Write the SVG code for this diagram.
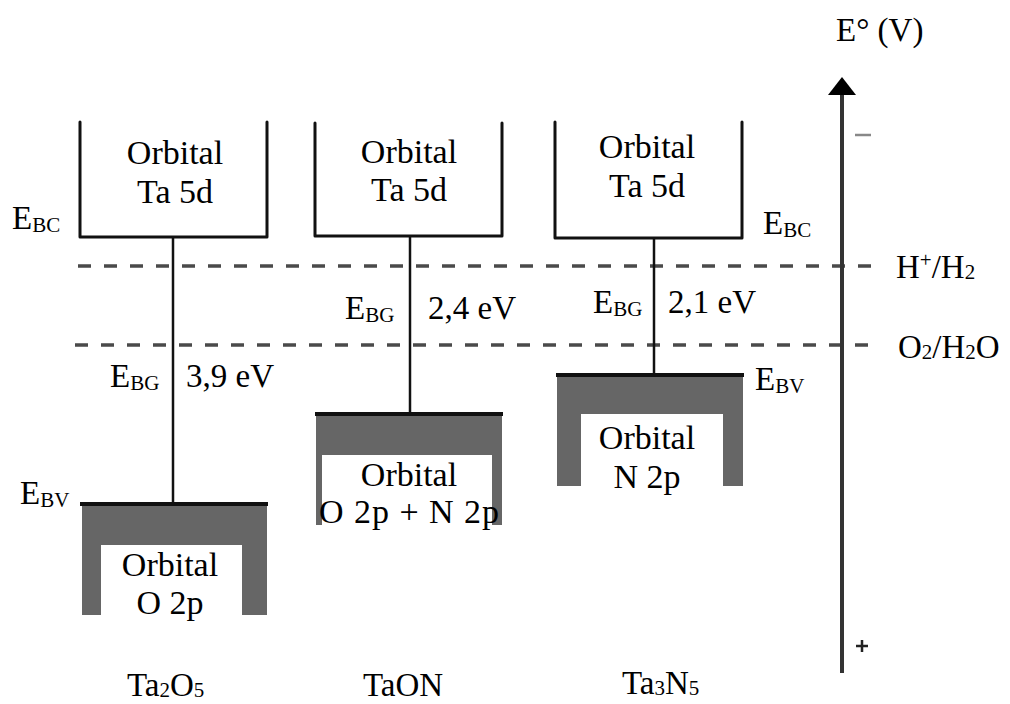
<svg xmlns="http://www.w3.org/2000/svg" width="1010" height="704" viewBox="0 0 1010 704" font-family="'Liberation Serif', 'Times New Roman', serif">
<defs>
<style>
text{font-family:'Liberation Serif','Times New Roman',serif;fill:#000}
.t{font-size:34px;text-anchor:middle}
.l{font-size:33px}
.s{font-size:21px}
.cb{fill:none;stroke:#111;stroke-width:3;stroke-linejoin:round;stroke-linecap:round}
.vb{fill:#666}
.vw{fill:#fff}
.top{stroke:#111;stroke-width:4}
.gap{stroke:#111;stroke-width:2.5}
.dash{stroke:#4a4a4a;stroke-width:3.5;stroke-dasharray:13 13}
</style>
</defs>
<rect width="1010" height="704" fill="#fff"/>

<g id="levels">
<line class="dash" x1="78" y1="266" x2="880" y2="266"/>
<line class="dash" x1="75" y1="345" x2="880" y2="345"/>
</g>

<g id="connectors">
<line class="gap" x1="173" y1="237" x2="173" y2="504"/>
<line class="gap" x1="410" y1="236" x2="410" y2="414"/>
<line class="gap" x1="654" y1="238" x2="654" y2="375"/>
</g>

<g id="ta2o5-cb">
<path class="cb" d="M80 122 V237 H267 V122"/>
<text class="t" x="175" y="164">Orbital</text>
<text class="t" x="175" y="203">Ta 5d</text>
</g>
<g id="ta2o5-vb">
<rect class="vb" x="82" y="504" width="185" height="111"/>
<rect class="vw" x="101" y="545" width="141" height="71"/>
<line class="top" x1="80" y1="504" x2="268" y2="504"/>
<text class="t" x="170" y="576">Orbital</text>
<text class="t" x="170" y="614">O 2p</text>
</g>

<g id="taon-cb">
<path class="cb" d="M315 123 V236 H502 V123"/>
<text class="t" x="409" y="163">Orbital</text>
<text class="t" x="409" y="201">Ta 5d</text>
</g>
<g id="taon-vb">
<rect class="vb" x="316" y="414" width="186" height="111"/>
<rect class="vw" x="322" y="455" width="170" height="71"/>
<line class="top" x1="315" y1="414" x2="503" y2="414"/>
<text class="t" x="409" y="486">Orbital</text>
<text class="t" x="409" y="523" textLength="180" lengthAdjust="spacing">O 2p + N 2p</text>
</g>

<g id="ta3n5-cb">
<path class="cb" d="M555 122 V238 H742 V122"/>
<text class="t" x="647" y="158">Orbital</text>
<text class="t" x="647" y="197">Ta 5d</text>
</g>
<g id="ta3n5-vb">
<rect class="vb" x="557" y="375" width="186" height="111"/>
<rect class="vw" x="581" y="414" width="142" height="73"/>
<line class="top" x1="556" y1="375" x2="744" y2="375"/>
<text class="t" x="647" y="449">Orbital</text>
<text class="t" x="647" y="488">N 2p</text>
</g>

<g id="labels">
<text class="l" x="12" y="229">E<tspan class="s" dy="3">BC</tspan></text>
<text class="l" x="20" y="504">E<tspan class="s" dy="3">BV</tspan></text>
<text class="l" x="110" y="387">E<tspan class="s" dy="3">BG</tspan></text>
<text class="l" x="186" y="387">3,9 eV</text>
<text class="l" x="345" y="319">E<tspan class="s" dy="3">BG</tspan></text>
<text class="l" x="428" y="319">2,4 eV</text>
<text class="l" x="593" y="313">E<tspan class="s" dy="3">BG</tspan></text>
<text class="l" x="668" y="313">2,1 eV</text>
<text class="l" x="763" y="234">E<tspan class="s" dy="3">BC</tspan></text>
<text class="l" x="755" y="390">E<tspan class="s" dy="3">BV</tspan></text>
<text class="l" x="127" y="696">Ta<tspan class="s" dy="1">2</tspan><tspan dy="-1">O</tspan><tspan class="s" dy="1">5</tspan></text>
<text class="l" x="363" y="696">TaON</text>
<text class="l" x="622" y="694">Ta<tspan class="s" dy="1">3</tspan><tspan dy="-1">N</tspan><tspan class="s" dy="1">5</tspan></text>
</g>

<g id="axis">
<line x1="842" y1="92" x2="842" y2="673" stroke="#333" stroke-width="4"/>
<path d="M842 77 L856 95 L828 95 Z" fill="#000"/>
<line x1="855" y1="135" x2="871" y2="135" stroke="#888" stroke-width="2.5"/>
<path d="M856 646 H868 M862 640 V652" stroke="#222" stroke-width="2.5"/>
<text class="l" x="836" y="41">E° (V)</text>
<text class="l" x="896" y="278">H<tspan class="s" dy="-11">+</tspan><tspan dy="11">/H</tspan><tspan class="s" dy="1">2</tspan></text>
<text class="l" x="898" y="358">O<tspan class="s" dy="1">2</tspan><tspan dy="-1">/H</tspan><tspan class="s" dy="1">2</tspan><tspan dy="-1">O</tspan></text>
</g>
</svg>
